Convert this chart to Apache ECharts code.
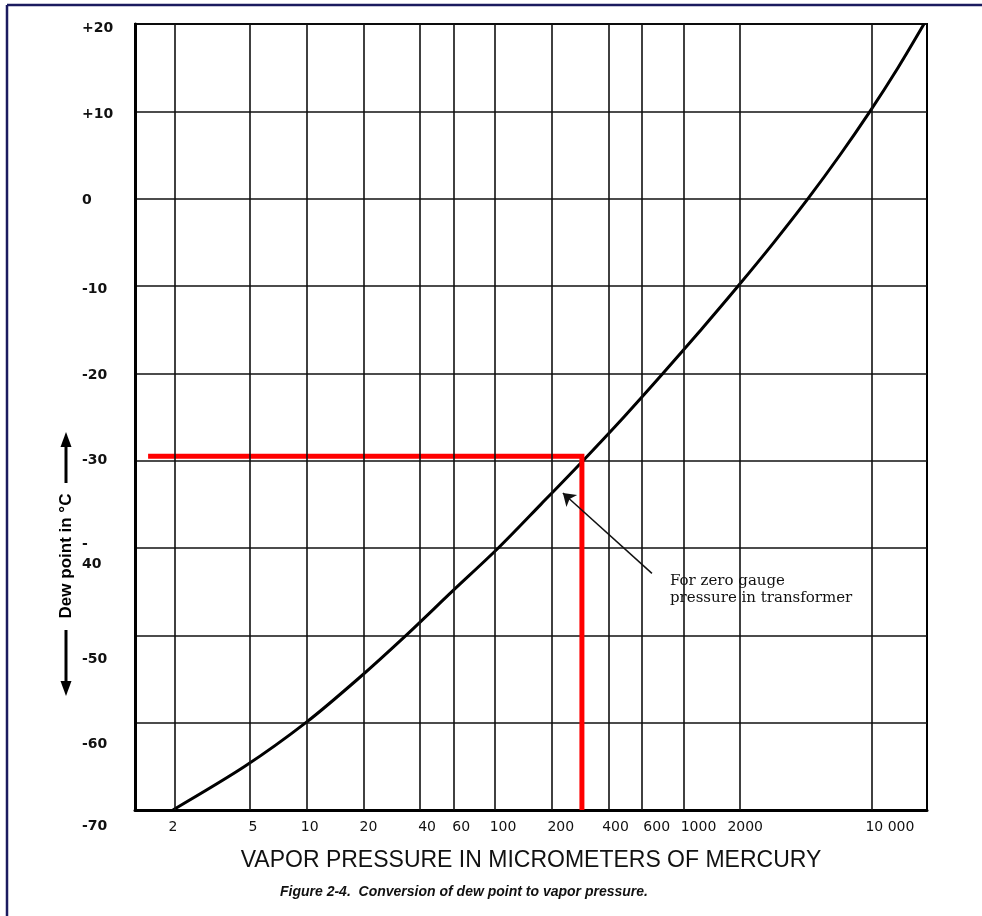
<!DOCTYPE html>
<html><head><meta charset="utf-8">
<script src="https://cdn.jsdelivr.net/npm/echarts@6/dist/echarts.min.js"></script>
<style>html,body{margin:0;padding:0;background:#fff}#c{width:982px;height:916px}</style>
</head><body><div id="c"></div>
<script>
// ---- data ----
const dewPoints = [-70, -65, -60, -55, -50, -45, -40, -35, -30, -25, -20, -15, -10, -5, 0, 5, 10, 15, 20];
const vaporPressures = [1.95, 4.7, 9.9, 18.7, 33.7, 59, 104, 175, 293, 483, 779, 1240, 1950, 3020, 4580, 6770, 9770, 13760, 18900];
const xTickValues = [2, 5, 10, 20, 40, 60, 100, 200, 400, 600, 1000, 2000, 10000];
const yTickValues = [20, 10, 0, -10, -20, -30, -40, -50, -60, -70];
const redLineX = [1.44, 289, 289];
const redLineY = [-29.5, -29.5, -70];
const annotationTip = [229, -33.7];
const annotationTail = [680, -42.9];
const annotationText = 'For zero gauge\npressure in transformer';
const xAxisTitle = 'VAPOR PRESSURE IN MICROMETERS OF MERCURY';
const yAxisTitle = 'Dew point in °C';
const caption = 'Figure 2-4.  Conversion of dew point to vapor pressure.';

// label offsets (px) that mimic the hand-lettered scan
const yLabelShift = {20: 4, 10: 3, 0: 2, '-10': 3, '-20': 2, '-30': 0, '-40': 6, '-50': 24, '-60': 22, '-70': 16};
const xLabelShift = {2: -2, 5: 3, 10: 3, 20: 5, 40: 7, 60: 8, 100: 8, 200: 9, 400: 7, 600: 15, 1000: 15, 2000: 5, 10000: 18};

const yRich = {};
yTickValues.forEach((v, i) => {
  const base = {fontFamily: 'DejaVu Sans', fontWeight: 'bold', fontSize: 14, color: '#111'};
  if (v === -40) {
    const p = 2 * yLabelShift[v];
    yRich['k' + i] = Object.assign({}, base, {lineHeight: 20, padding: [p, 0, 0, 0]});
    yRich['k' + i + 'b'] = Object.assign({}, base, {lineHeight: 20, padding: [p, 0, 0, 0]});
  } else {
    yRich['k' + i] = Object.assign({}, base, {lineHeight: 16, padding: [2 * yLabelShift[v], 0, 0, 0]});
  }
});
const xRich = {};
xTickValues.forEach((v, i) => {
  const s = xLabelShift[v];
  xRich['x' + i] = {fontFamily: 'DejaVu Sans', fontSize: 14, color: '#111',
    padding: s >= 0 ? [0, 0, 0, 2 * s] : [0, -2 * s, 0, 0]};
});

const chart = echarts.init(document.getElementById('c'), null, {renderer: 'canvas'});
const navy = '#1b1b5f';
chart.setOption({
  backgroundColor: '#fff',
  animation: false,
  title: {
    text: caption, left: 275, top: 880,
    textStyle: {fontFamily: 'Liberation Sans', fontSize: 14, fontWeight: 'bold', fontStyle: 'italic', color: '#111'}
  },
  grid: {left: 135, right: 55, top: 24, bottom: 106, show: true, borderColor: '#000', borderWidth: 2, backgroundColor: 'transparent'},
  xAxis: {
    type: 'log', logBase: 10, min: 1.227, max: 19610,
    axisLine: {show: true, onZero: false, lineStyle: {color: '#000', width: 3}},
    axisTick: {show: false},
    splitLine: {show: false},
    minorSplitLine: {show: false},
    axisLabel: {
      customValues: xTickValues,
      formatter: v => {
        const i = xTickValues.indexOf(v);
        const t = v >= 10000 ? String(v).replace(/(\d)(?=(\d{3})+$)/g, '$1 ') : String(v);
        return '{x' + i + '|' + t + '}';
      },
      rich: xRich, margin: 10
    },
    name: xAxisTitle, nameLocation: 'middle', nameGap: 39,
    nameTextStyle: {fontFamily: 'Liberation Sans', fontSize: 23, color: '#111'}
  },
  yAxis: {
    type: 'value', min: -70, max: 20, interval: 10,
    axisLine: {show: true, onZero: false, lineStyle: {color: '#000', width: 3}},
    axisTick: {show: false},
    splitLine: {show: true, lineStyle: {color: '#111', width: 1.6}},
    axisLabel: {
      align: 'left', margin: 53,
      formatter: v => {
        const i = yTickValues.indexOf(v);
        if (v === -40) return '{k' + i + '|-}\n{k' + i + 'b|40}';
        const t = v > 0 ? '+' + v : String(v);
        return '{k' + i + '|' + t + '}';
      },
      rich: yRich
    }
  },
  series: [
    {
      type: 'line', data: [], z: 1, silent: true,
      markLine: {
        silent: true, symbol: ['none', 'none'], label: {show: false},
        lineStyle: {color: '#111', width: 1.6, type: 'solid'},
        emphasis: {disabled: true},
        data: xTickValues.map(v => ({xAxis: v}))
      }
    },
    {
      type: 'line', name: 'curve', z: 3, showSymbol: false, smooth: 0.3,
      data: dewPoints.map((d, i) => [vaporPressures[i], d]),
      lineStyle: {color: '#000', width: 3}, itemStyle: {color: '#000'}
    },
    {
      type: 'line', name: 'reference', z: 4, showSymbol: false,
      data: redLineX.map((x, i) => [x, redLineY[i]]),
      lineStyle: {color: '#ff0000', width: 5, join: 'miter', cap: 'butt'}, itemStyle: {color: '#ff0000'},
      markLine: {
        silent: true, symbol: ['none', 'arrow'], symbolSize: 12, label: {show: false},
        lineStyle: {color: '#111', width: 1.5, type: 'solid'},
        itemStyle: {color: '#111'},
        emphasis: {disabled: true},
        data: [[{coord: annotationTail}, {coord: annotationTip}]]
      }
    }
  ],
  graphic: [
    {type: 'line', shape: {x1: 7, y1: 5, x2: 982, y2: 5}, style: {stroke: navy, lineWidth: 2.5}},
    {type: 'line', shape: {x1: 7, y1: 5, x2: 7, y2: 916}, style: {stroke: navy, lineWidth: 2.5}},
    {type: 'text', x: 66, y: 556, rotation: Math.PI / 2,
     style: {text: yAxisTitle, font: 'bold 17px "Liberation Sans"', align: 'center', verticalAlign: 'middle', fill: '#000'}},
    {type: 'line', shape: {x1: 66, y1: 483, x2: 66, y2: 442}, style: {stroke: '#000', lineWidth: 3}},
    {type: 'polygon', shape: {points: [[66, 432], [60.5, 447], [71.5, 447]]}, style: {fill: '#000'}},
    {type: 'line', shape: {x1: 66, y1: 630, x2: 66, y2: 686}, style: {stroke: '#000', lineWidth: 3}},
    {type: 'polygon', shape: {points: [[66, 696], [60.5, 681], [71.5, 681]]}, style: {fill: '#000'}},
    {type: 'text', x: 670, y: 573,
     style: {text: annotationText, font: '15px "DejaVu Serif"', lineHeight: 17, fill: '#111', align: 'left', verticalAlign: 'top'}}
  ]
});
</script>
</body></html>
